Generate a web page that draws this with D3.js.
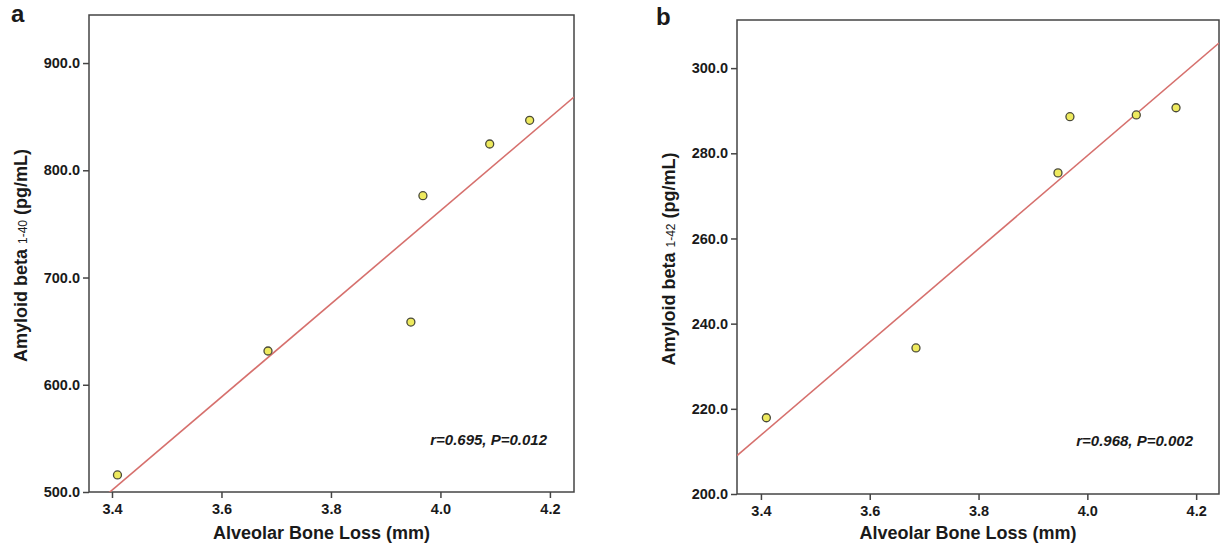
<!DOCTYPE html>
<html lang="en">
<head>
    <meta charset="UTF-8">
    <script src="https://d3js.org/d3.v7.min.js"></script>
    <title>Amyloid beta vs alveolar bone loss</title>
    <style>
        body { margin: 0; background: #fff; }
        text { font-family: "Liberation Sans", Arial, sans-serif; font-weight: bold; fill: #1a1a1a; }
    </style>
</head>
<body>
    <svg id="svg1" width="1221" height="548"></svg>

    <script>
        // values
        const boneLoss = [3.41, 3.685, 3.946, 3.968, 4.09, 4.163];
        const abeta40 = [515.9, 631.5, 658.5, 776.3, 824.5, 846.6];
        const abeta42 = [217.9, 234.3, 275.4, 288.6, 289.0, 290.7];
        const xTicks = [3.4, 3.6, 3.8, 4.0, 4.2];
        const yTicksA = [500, 600, 700, 800, 900];
        const yTicksB = [200, 220, 240, 260, 280, 300];
        const panelLabels = ["a", "b"];
        const yTitleSubs = ["1-40", "1-42"];
        const statTexts = ["r=0.695, P=0.012", "r=0.968, P=0.002"];

        const svg1 = d3.select("svg#svg1");

        const panels = [
            { id: 0, box: {left: 89, right: 574, top: 15, bottom: 492},
              xDomain: [3.358, 4.244], yDomain: [500, 944.8], ys: abeta40, yTicks: yTicksA,
              letterPos: [11, 22], yTitleX: 27, statPos: [547, 445] },
            { id: 1, box: {left: 737, right: 1219, top: 20, bottom: 494},
              xDomain: [3.356, 4.242], yDomain: [200, 311.3], ys: abeta42, yTicks: yTicksB,
              letterPos: [656, 25], yTitleX: 675, statPos: [1193, 446] }
        ];

        function fit(xs, ys) {
            const mx = d3.mean(xs), my = d3.mean(ys);
            let sxy = 0, sxx = 0;
            xs.forEach((x, i) => { sxy += (x - mx) * (ys[i] - my); sxx += (x - mx) * (x - mx); });
            const b = sxy / sxx;
            return x => my + b * (x - mx);
        }

        panels.forEach(p => {
            const b = p.box;
            const xScale = d3.scaleLinear().domain(p.xDomain).range([b.left, b.right]);
            const yScale = d3.scaleLinear().domain(p.yDomain).range([b.bottom, b.top]);
            const g = svg1.append("g");

            // clip for regression line
            g.append("clipPath").attr("id", "clip" + p.id)
                .append("rect")
                .attr("x", b.left).attr("y", b.top)
                .attr("width", b.right - b.left).attr("height", b.bottom - b.top);

            // axes
            let leftAxis = d3.axisLeft(yScale).tickValues(p.yTicks)
                .tickFormat(d3.format(".1f")).tickSize(6).tickPadding(3);
            let yg = g.append("g").attr("transform", `translate(${b.left},0)`).call(leftAxis);

            let bottomAxis = d3.axisBottom(xScale).tickValues(xTicks)
                .tickFormat(d3.format(".1f")).tickSize(6).tickPadding(6);
            let xg = g.append("g").attr("transform", `translate(0,${b.bottom})`).call(bottomAxis);

            [yg, xg].forEach(a => {
                a.select(".domain").remove();
                a.selectAll(".tick line").attr("stroke", "#444").attr("stroke-width", 1.5);
                a.selectAll(".tick text").style("font-size", "14.5px").attr("fill", "#1a1a1a");
            });

            // frame
            g.append("rect")
                .attr("x", b.left).attr("y", b.top)
                .attr("width", b.right - b.left).attr("height", b.bottom - b.top)
                .attr("fill", "none").attr("stroke", "#444").attr("stroke-width", 1.5);

            // regression line
            const f = fit(boneLoss, p.ys);
            g.append("line")
                .attr("clip-path", `url(#clip${p.id})`)
                .attr("x1", xScale(p.xDomain[0])).attr("y1", yScale(f(p.xDomain[0])))
                .attr("x2", xScale(p.xDomain[1])).attr("y2", yScale(f(p.xDomain[1])))
                .attr("stroke", "#d6706d").attr("stroke-width", 1.6);

            // points
            g.selectAll("circle.pt")
                .data(boneLoss.map((x, i) => [x, p.ys[i]]))
                .join("circle")
                .attr("class", "pt")
                .attr("cx", d => xScale(d[0]))
                .attr("cy", d => yScale(d[1]))
                .attr("r", 4)
                .attr("fill", "#eeea5e")
                .attr("stroke", "#4a4a3a")
                .attr("stroke-width", 1.3);

            // titles
            g.append("text")
                .attr("x", (b.left + b.right) / 2 - 10).attr("y", 539)
                .attr("text-anchor", "middle")
                .style("font-size", "18px")
                .text("Alveolar Bone Loss (mm)");

            let yt = g.append("text")
                .attr("transform", `translate(${p.yTitleX},${(b.top + b.bottom) / 2 + 2}) rotate(-90)`)
                .attr("text-anchor", "middle")
                .style("font-size", "18px");
            yt.append("tspan").text("Amyloid beta ");
            yt.append("tspan").style("font-size", "12px").style("font-weight", "normal").text(yTitleSubs[p.id]);
            yt.append("tspan").text(" (pg/mL)");

            g.append("text")
                .attr("x", p.letterPos[0]).attr("y", p.letterPos[1])
                .style("font-size", "24px")
                .text(panelLabels[p.id]);

            g.append("text")
                .attr("x", p.statPos[0]).attr("y", p.statPos[1])
                .attr("text-anchor", "end")
                .style("font-size", "15px").style("font-style", "italic")
                .text(statTexts[p.id]);
        });
    </script>
</body>
</html>
